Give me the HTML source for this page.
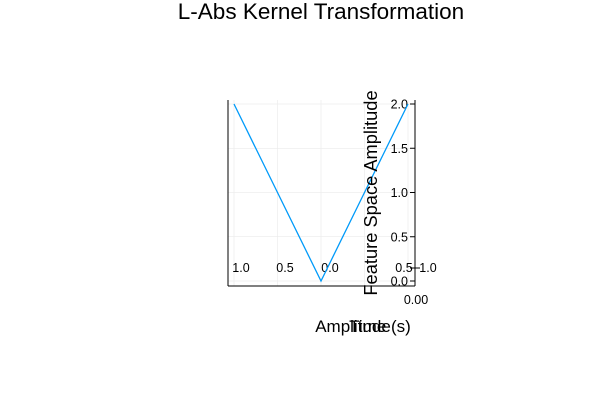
<!DOCTYPE html>
<html><head><meta charset="utf-8"><style>
body{margin:0;background:#fff;}
svg text{font-family:"Liberation Sans","DejaVu Sans",sans-serif;fill:#000;}
</style></head><body>
<svg width="600" height="400">
<script>
const categories=[-1,-0.5,0,0.5,1];
const values=[2,1,0,1,2];
const yTicks=[0,0.5,1,1.5,2];
const yTickLabels=["0.0","0.5","1.0","1.5","2.0"];
const xTickLabels=["1.0","0.5","0.0","0.5","1.0"];
</script>
<rect width="600" height="400" fill="#fff"/>
<text x="321" y="19" font-size="22.5" text-anchor="middle">L-Abs Kernel Transformation</text>
<g id="grid"></g>
<line x1="228" y1="100" x2="228" y2="286" stroke="#000" stroke-width="1"/>
<line x1="228" y1="286" x2="415" y2="286" stroke="#000" stroke-width="1"/>
<line x1="415" y1="100" x2="415" y2="286" stroke="#000" stroke-width="1"/>
<g id="yticks"></g>
<g id="xticks"></g>
<path id="line" fill="none" stroke="#009af9" stroke-width="1.3"/>
<text x="416" y="304" font-size="12.5" text-anchor="middle">0.00</text>
<text x="353" y="332" font-size="17" text-anchor="middle">Amplitude</text>
<text x="380" y="332" font-size="17" text-anchor="middle">Time (s)</text>
<text transform="translate(377,193) rotate(-90)" font-size="18.3" text-anchor="middle">Feature Space Amplitude</text>
<script>
const NS="http://www.w3.org/2000/svg";
const xs=v=>321+v*87;
const ys=v=>281-v*88.5;
const grid=document.getElementById('grid');
const xLabelPos=[241,285,330,404,428];
yTicks.forEach((t,i)=>{
  const l=document.createElementNS(NS,'line');
  
  
  l.setAttribute('x1',228);l.setAttribute('x2',415);l.setAttribute('y1',ys(t));l.setAttribute('y2',ys(t));
  l.setAttribute('stroke','#e6e6e6');l.setAttribute('stroke-width','0.6');
  grid.appendChild(l);
  const tk=document.createElementNS(NS,'line');
  
  
  tk.setAttribute('x1',410);tk.setAttribute('x2',415);tk.setAttribute('y1',ys(t));tk.setAttribute('y2',ys(t));
  tk.setAttribute('stroke','#000');
  document.getElementById('yticks').appendChild(tk);
  const tx=document.createElementNS(NS,'text');
  
  
  tx.setAttribute('x',408);tx.setAttribute('y',ys(t)+4.5);tx.setAttribute('font-size','12.5');tx.setAttribute('text-anchor','end');
  tx.textContent=yTickLabels[i];
  document.getElementById('yticks').appendChild(tx);
});
categories.forEach((c,i)=>{
  const l=document.createElementNS(NS,'line');
  
  
  l.setAttribute('x1',xs(c));l.setAttribute('x2',xs(c));l.setAttribute('y1',100);l.setAttribute('y2',286);
  l.setAttribute('stroke','#eaeaea');l.setAttribute('stroke-width','0.6');
  grid.appendChild(l);
  const tx=document.createElementNS(NS,'text');
  
  
  tx.setAttribute('x',xLabelPos[i]);tx.setAttribute('y',272);tx.setAttribute('font-size','12.5');tx.setAttribute('text-anchor','middle');
  tx.textContent=xTickLabels[i];
  document.getElementById('xticks').appendChild(tx);
});
const zt=document.createElementNS(NS,'line');


zt.setAttribute('x1',410);zt.setAttribute('x2',420);zt.setAttribute('y1',268);zt.setAttribute('y2',268);zt.setAttribute('stroke','#000');
document.getElementById('xticks').appendChild(zt);
document.getElementById('line').setAttribute('d',categories.map((c,i)=>(i?'L':'M')+xs(c)+','+ys(values[i])).join(' '));
</script>
</svg>
</body></html>
